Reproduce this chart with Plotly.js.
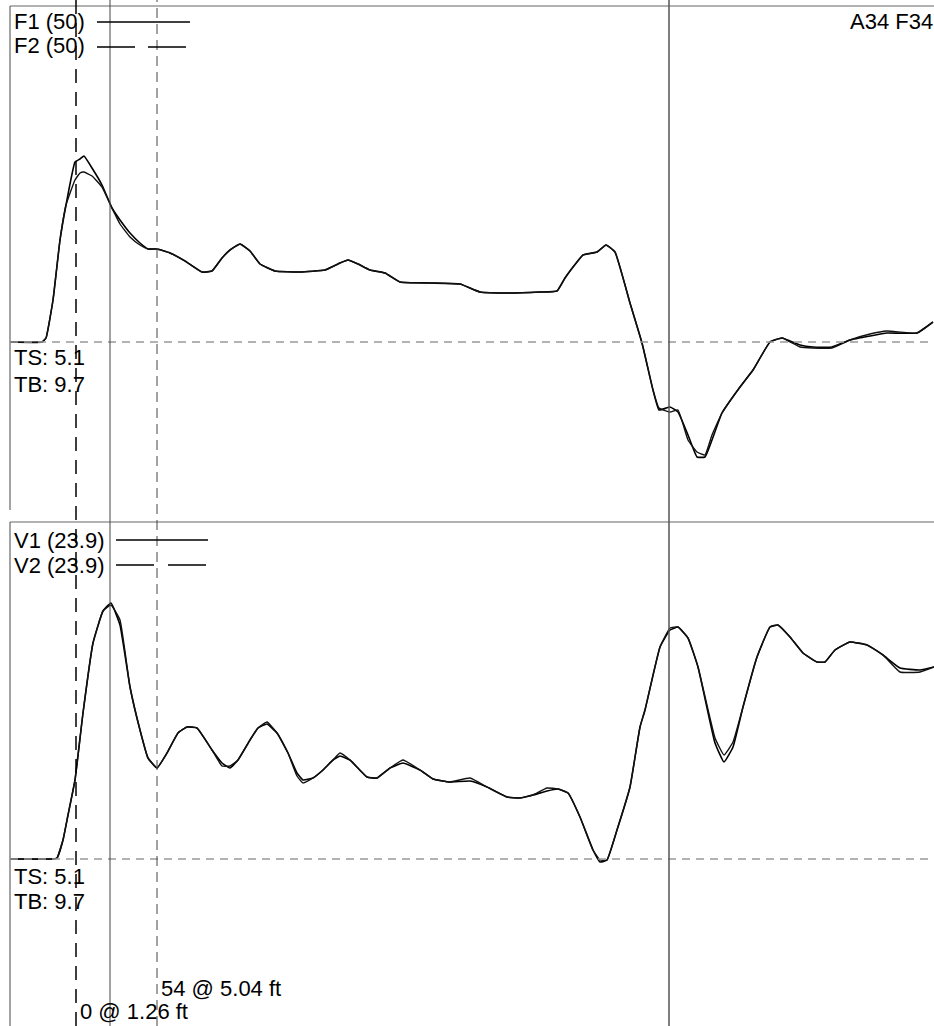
<!DOCTYPE html>
<html>
<head>
<meta charset="utf-8">
<script src="https://cdn.plot.ly/plotly-3.0.1.min.js"></script>
<style>html,body{margin:0;padding:0;background:#fff;}#chart{width:934px;height:1026px;}</style>
</head>
<body>
<div id="chart"></div>
<script>
// ---- Force panel (time in ms, force in arbitrary units) ----
const forceTime = [0,3.2,3.6,4.3,5.0,5.6,6.5,7.0,7.4,8.2,9.2,10.2,11.0,12.0,13.0,13.8,14.7,16.0,17.5,19.2,20.2,21.2,22.0,23.0,24.0,25.0,26.5,29.0,31.5,33.0,33.8,34.8,36.0,37.5,39.0,42.0,45.0,47.0,50.0,53.0,54.7,55.5,56.7,57.3,58.7,59.6,60.5,62.0,63.2,64.3,64.9,66.0,66.8,67.8,68.7,69.5,70.2,71.2,73.0,74.3,76.0,77.2,79.0,80.3,82.2,84.0,86.0,87.7,90.7,92.3];
const f1 = [0,0,2,21,51,68.5,90,91.5,93,87,78.5,67,61,54.5,49.5,46.5,46.5,44.5,40.5,35,35.5,42,46,49,45.5,39,35.5,35,36,39.5,41,39,36,34.5,30,29.5,29,25,24.5,25,25.5,32,40,43.5,45,48.5,45,19.5,-0.5,-24,-34,-32.5,-35,-46.5,-57.5,-57.5,-49,-35.5,-22.5,-14,0,2,-1.5,-2.5,-2.5,1,3,4.5,4.5,10];
const f2 = [0,0,2,21,51,68.5,81,84.5,85,83,77.5,67,59,52.5,48.5,46.5,46.5,44.5,40.5,35,35.5,42,46,49,45.5,39,35.5,35,36,39.5,41,39,36,34.5,30,29.5,29,25,24.5,25,25.5,32,40,43.5,45,48.5,45,19.5,-0.5,-24,-33,-35,-34,-49,-55,-56.5,-46.5,-35.5,-22.5,-14,0,2,-2.5,-3,-3,1,4,5.5,4.5,10];

// ---- Velocity panel ----
const velTime = [0,4.2,4.7,5.3,5.8,6.5,7.3,8.3,9.3,10.1,11.0,12.0,13.0,13.8,14.7,15.7,16.8,17.7,18.7,20.2,21.2,22.0,22.8,24.0,24.8,25.7,26.7,27.8,28.7,29.3,30.3,31.3,32.3,33.0,34.0,35.7,36.7,38.0,39.3,41.0,42.3,44.0,46.0,47.7,49.7,51.0,52.3,53.7,54.8,55.8,57.0,58.3,59.0,59.7,60.7,62.0,63.0,63.5,65.0,66.0,66.8,67.8,68.8,70.5,71.4,72.3,73.3,74.7,76.0,76.8,78.0,79.3,80.7,81.5,82.5,84.0,85.7,87.3,89.0,91.0,92.4];
const v1 = [0,0,0.5,9.5,22,39.5,73,108,124,128,117,86,64.5,50.5,45.5,53,63,66,65.5,54.5,48,45.5,49.5,59.5,65.5,67.5,63,53,43,39.5,40.5,44.5,49.5,51.5,49.5,41,40.5,45.5,48,44.5,40,38.5,39,36,31,30.5,32,34,35,33,21,4.5,-1.5,-0.5,14.5,36,66,74.5,106,114.5,116,110.5,96,58,48.5,56,76,101,116,117,111,103,98.5,98.5,104.5,108.5,107,102,95.5,94.5,96];
const v2 = [0,0,0.5,9.5,22,39.5,73,108,124,127,119.5,86,64.5,50.5,45.5,53,63,66,65.5,54.5,46.5,46.5,49.5,59.5,65.5,68.5,63,53,41.5,38,40.5,44.5,49.5,53,49.5,41,40.5,45.5,49.5,44.5,40,38.5,40.5,36,31,30.5,32,35.5,35,33,21,4.5,-0.5,-0.5,14.5,36,66,74.5,106,115.5,116,110.5,96,60.5,52,58.5,76,101,116,117,111,103,98.5,98.5,104.5,108.5,107,102,93.5,93.5,96];

// ---- marker positions (ms) and labels ----
const markerTimes = [6.6, 10.0, 14.7, 65.9];
const topLabels = ["F1 (50)", "F2 (50)"];
const botLabels = ["V1 (23.9)", "V2 (23.9)"];
const cornerLabel = "A34 F34";
const statLabels = ["TS: 5.1", "TB: 9.7"];
const markerLabels = ["54 @ 5.04 ft", "0 @ 1.26 ft"];

const W = 934, H = 1026;
const px = v => v / W;
const py = v => 1 - v / H;

const lineStyle = {color: '#000', width: 1.6, shape: 'spline', smoothing: 0.35};
const lineStyle2 = {color: '#111', width: 1.4, shape: 'spline', smoothing: 0.35};
const traces = [
  {x: forceTime, y: f1, xaxis: 'x', yaxis: 'y', mode: 'lines', line: lineStyle, name: 'F1', hoverinfo: 'skip'},
  {x: forceTime, y: f2, xaxis: 'x', yaxis: 'y', mode: 'lines', line: lineStyle2, name: 'F2', hoverinfo: 'skip'},
  {x: velTime, y: v1, xaxis: 'x2', yaxis: 'y2', mode: 'lines', line: lineStyle, name: 'V1', hoverinfo: 'skip'},
  {x: velTime, y: v2, xaxis: 'x2', yaxis: 'y2', mode: 'lines', line: lineStyle2, name: 'V2', hoverinfo: 'skip'}
];

const hidden = {showgrid: false, zeroline: false, showticklabels: false, showline: false, ticks: ''};
const fontBase = {family: 'Liberation Sans, Arial, sans-serif', size: 22, color: '#000'};

const shapes = [];
// panel borders
shapes.push({type: 'line', xref: 'paper', yref: 'paper', x0: px(10), x1: 1, y0: py(6), y1: py(6), line: {color: '#999', width: 1.5}});
shapes.push({type: 'line', xref: 'paper', yref: 'paper', x0: px(10), x1: px(10), y0: py(6), y1: py(510), line: {color: '#666', width: 1.2}});
shapes.push({type: 'line', xref: 'paper', yref: 'paper', x0: px(10), x1: 1, y0: py(522), y1: py(522), line: {color: '#999', width: 1.5}});
shapes.push({type: 'line', xref: 'paper', yref: 'paper', x0: px(10), x1: px(10), y0: py(522), y1: 0, line: {color: '#666', width: 1.2}});
// zero lines
shapes.push({type: 'line', xref: 'paper', yref: 'y', x0: px(10), x1: 1, y0: 0, y1: 0, line: {color: '#999', width: 1.3, dash: '8px,6px'}});
shapes.push({type: 'line', xref: 'paper', yref: 'y2', x0: px(10), x1: 1, y0: 0, y1: 0, line: {color: '#999', width: 1.3, dash: '8px,6px'}});
// vertical markers
const markerStyles = [
  {color: '#000', width: 1.5, dash: '14px,9px'},
  {color: '#444', width: 1},
  {color: '#444', width: 1, dash: '10px,6px'},
  {color: '#555', width: 1.5}
];
markerTimes.forEach((t, i) => {
  shapes.push({type: 'line', xref: 'x', yref: 'paper', x0: t, x1: t, y0: 0, y1: 1, line: markerStyles[i]});
});
// legend samples
shapes.push({type: 'line', xref: 'paper', yref: 'paper', x0: px(97), x1: px(190), y0: py(22), y1: py(22), line: {color: '#000', width: 1.5}});
shapes.push({type: 'line', xref: 'paper', yref: 'paper', x0: px(97), x1: px(187), y0: py(47), y1: py(47), line: {color: '#000', width: 1.5, dash: '38px,13px'}});
shapes.push({type: 'line', xref: 'paper', yref: 'paper', x0: px(116), x1: px(208), y0: py(540), y1: py(540), line: {color: '#000', width: 1.5}});
shapes.push({type: 'line', xref: 'paper', yref: 'paper', x0: px(116), x1: px(206), y0: py(565), y1: py(565), line: {color: '#000', width: 1.5, dash: '38px,14px'}});

const ann = (text, x, y, xanchor) => ({text, xref: 'paper', yref: 'paper', x: px(x), y: py(y), xanchor: xanchor || 'left', yanchor: 'middle', showarrow: false, font: fontBase, borderpad: 0});
const annotations = [
  ann(topLabels[0], 13, 21),
  ann(topLabels[1], 13, 46),
  ann(cornerLabel, 934, 21, 'right'),
  ann(statLabels[0], 13, 358),
  ann(statLabels[1], 13, 384),
  ann(botLabels[0], 13, 540),
  ann(botLabels[1], 13, 565),
  ann(statLabels[0], 13, 876),
  ann(statLabels[1], 13, 901),
  ann(markerLabels[0], 160, 988),
  ann(markerLabels[1], 79, 1011)
];

const layout = {
  width: W, height: H,
  margin: {l: 0, r: 0, t: 0, b: 0},
  paper_bgcolor: '#fff', plot_bgcolor: 'rgba(0,0,0,0)',
  showlegend: false,
  xaxis: Object.assign({domain: [px(10), 1], range: [0, 92.4], anchor: 'y'}, hidden),
  xaxis2: Object.assign({domain: [px(10), 1], range: [0, 92.4], anchor: 'y2', matches: 'x'}, hidden),
  yaxis: Object.assign({domain: [py(510), py(6)], range: [(342 - 510) / 2, (342 - 6) / 2], anchor: 'x'}, hidden),
  yaxis2: Object.assign({domain: [0, py(522)], range: [(859 - 1026) / 2, (859 - 522) / 2], anchor: 'x2'}, hidden),
  shapes, annotations
};

Plotly.newPlot('chart', traces, layout, {staticPlot: true, displayModeBar: false});
</script>
</body>
</html>
